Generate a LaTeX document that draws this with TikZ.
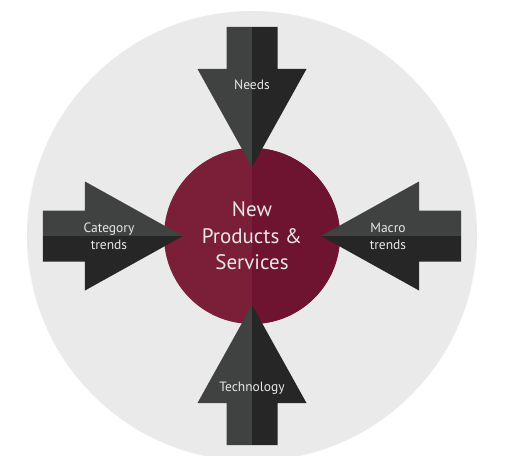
\documentclass[tikz,border=0pt]{standalone}
\usepackage{fontspec}
\setmainfont{PT Sans}
\usetikzlibrary{positioning}
\definecolor{ringgray}{HTML}{EAEAEA}
\definecolor{arrowlight}{HTML}{404141}
\definecolor{arrowdark}{HTML}{262626}
\definecolor{hublight}{HTML}{7B1F39}
\definecolor{hubdark}{HTML}{6E1330}
\definecolor{labelwhite}{HTML}{E8E8E8}
\tikzset{
  hub/.style={circle, minimum size=176pt, inner sep=0pt, fill=hublight, text=labelwhite, align=center,
    font=\fontsize{21}{26.5}\selectfont,
    path picture={\fill[hubdark] (path picture bounding box.north) rectangle (path picture bounding box.south east);}},
  lbl/.style={text=labelwhite, align=center, font=\fontsize{13.5}{17}\selectfont},
}

\begin{document}
\begin{tikzpicture}[x=1pt, y=1pt]
  \useasboundingbox (-252,-219) rectangle (269,236);
  \clip (-252,-219) rectangle (269,236);
  \fill[ringgray] (0,0) circle (225);
  \node[hub] (hub) at (0,0) {New\\Products \&\\Services};
  % four arrows pointing at the hub
  \foreach \ux/\uy/\vx/\vy in {0/1/-1/0, -1/0/0/1, 1/0/0/1, 0/-1/-1/0}{
    \begin{scope}[cm={\ux,\uy,\vx,\vy,(0,0)}]
      \fill[arrowlight] (69,0) -- (167,54.5) -- (167,25.5) -- (209,25.5) -- (209,0) -- cycle;
      \fill[arrowdark] (69,0) -- (167,-54.5) -- (167,-25.5) -- (209,-25.5) -- (209,0) -- cycle;
    \end{scope}
  }
  \node[lbl] (needs) at (0,151) {Needs};
  \node[lbl] (cattrends) at (-143,-0.5) {Category\\trends};
  \node[lbl] (macrotrends) at (136,-0.5) {Macro\\trends};
  \node[lbl] (tech) at (0,-152) {Technology};
\end{tikzpicture}
\end{document}
